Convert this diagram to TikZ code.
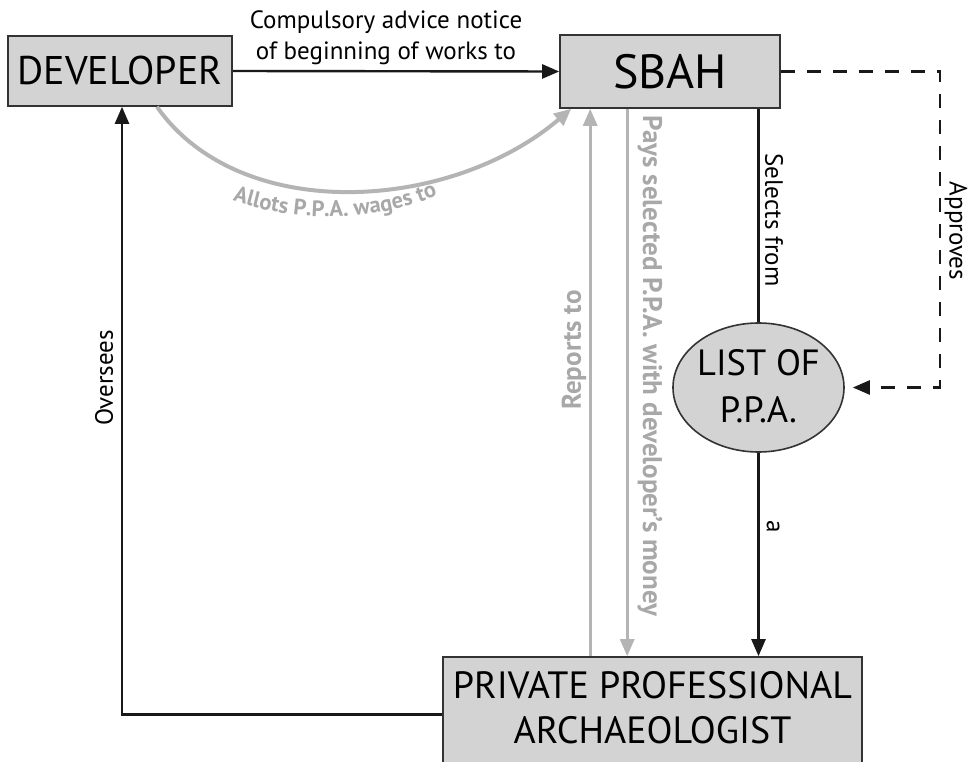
\documentclass[tikz,border=0pt]{standalone}
\usepackage{fontspec}
\setmainfont{PT Sans}
\usetikzlibrary{arrows.meta,decorations.text,shapes.geometric}
\definecolor{boxfill}{HTML}{D3D3D3}
\definecolor{boxline}{HTML}{333333}
\definecolor{lgrey}{HTML}{B4B4B4}
\definecolor{tgrey}{HTML}{A8A8A8}
\begin{document}
\begin{tikzpicture}[x=1pt,y=-1pt,
  box/.style={draw=boxline, fill=boxfill, line width=1.6pt, inner sep=0pt},
  blk/.style={line width=2.4pt, draw=black!90, -{Triangle[length=17pt,width=14pt]}},
  blkline/.style={line width=2.4pt, draw=black!90},
  gry/.style={line width=3pt, draw=lgrey, -{Triangle[length=17pt,width=14pt,fill=lgrey]}},
  dsh/.style={line width=2.4pt, draw=black!90, dash pattern=on 14pt off 12pt, -{Triangle[length=17pt,width=14pt]}},
  lbl/.style={font=\fontsize{25}{31}\selectfont, inner sep=0pt, align=center},
  glbl/.style={font=\fontsize{27}{31}\selectfont\bfseries, text=tgrey, inner sep=0pt}
]
\useasboundingbox (0,0) rectangle (970,762);
\clip (0,0) rectangle (970,762);
\fill[white] (0,0) rectangle (970,762);

% nodes
\node[box, minimum width=224pt, minimum height=70pt, font=\fontsize{40}{40}\selectfont] (dev) at (120,71) {DEVELOPER};
\node[box, minimum width=220pt, minimum height=73pt, font=\fontsize{48}{48}\selectfont] (sbah) at (670,71.5) {SBAH};
\node[ellipse, draw=boxline, fill=boxfill, line width=1.6pt, minimum width=171pt, minimum height=129pt, inner sep=0pt] (list) at (758.5,387.5) {};
\node[font=\fontsize{36.5}{47}\selectfont, align=center, inner sep=0pt] (listtext) at (758.5,386) {LIST OF\\P.P.A.};
\node[box, minimum width=419pt, minimum height=115pt] (ppa) at (652.5,714.5) {};
\node[font=\fontsize{38}{45}\selectfont, align=center, inner sep=0pt] (ppatext) at (652.5,708) {PRIVATE PROFESSIONAL\\ARCHAEOLOGIST};

% helper coordinates
\coordinate (rep) at ([xshift=31pt]sbah.south west);
\coordinate (pay) at ([xshift=68pt]sbah.south west);
\coordinate (apr) at (940,200);

% connectors
\draw[blk] (dev.east) -- (sbah.west);
\draw[blk] (ppa.west) -| ([xshift=2pt]dev.south);
\draw[gry] (ppa.north -| rep) -- (rep);
\draw[gry] (pay) -- (ppa.north -| pay);
\draw[blkline] (sbah.south -| list.north) -- (list.north);
\draw[blk] (list.south) -- (ppa.north -| list.south);
\draw[dsh, shorten >=8pt] (sbah.east) -| (apr) |- (list.east);
\draw[line width=4pt, draw=lgrey, -{Triangle[length=17pt,width=15pt,fill=lgrey]}]
  ([xshift=37pt]dev.south) .. controls (240,225) and (450,212) .. ([xshift=12pt]sbah.south west);

% labels
\node[lbl] (l1) at (386,38) {Compulsory advice notice\\of beginning of works to};
\node[lbl, rotate=90] (l2) at (104,378) {Oversees};
\node[glbl, rotate=90] (l3) at (574,350) {Reports to};
\node[glbl, rotate=-90] (l4) at (650,366) {Pays selected P.P.A. with developer's money};
\node[lbl, rotate=-90] (l5) at (774,220) {Selects from};
\node[lbl, rotate=-90] (l6) at (956,231) {Approves};
\node[lbl, rotate=-90] (l7) at (773,527) {a};
\path[decorate, decoration={text along path, text align=center,
  text={|\fontsize{22.5}{22}\selectfont\bfseries\color{tgrey}|Allots P.P.A. wages to}}]
  (224,198) .. controls (300,224) and (372,224) .. (446,192);
\end{tikzpicture}
\end{document}
